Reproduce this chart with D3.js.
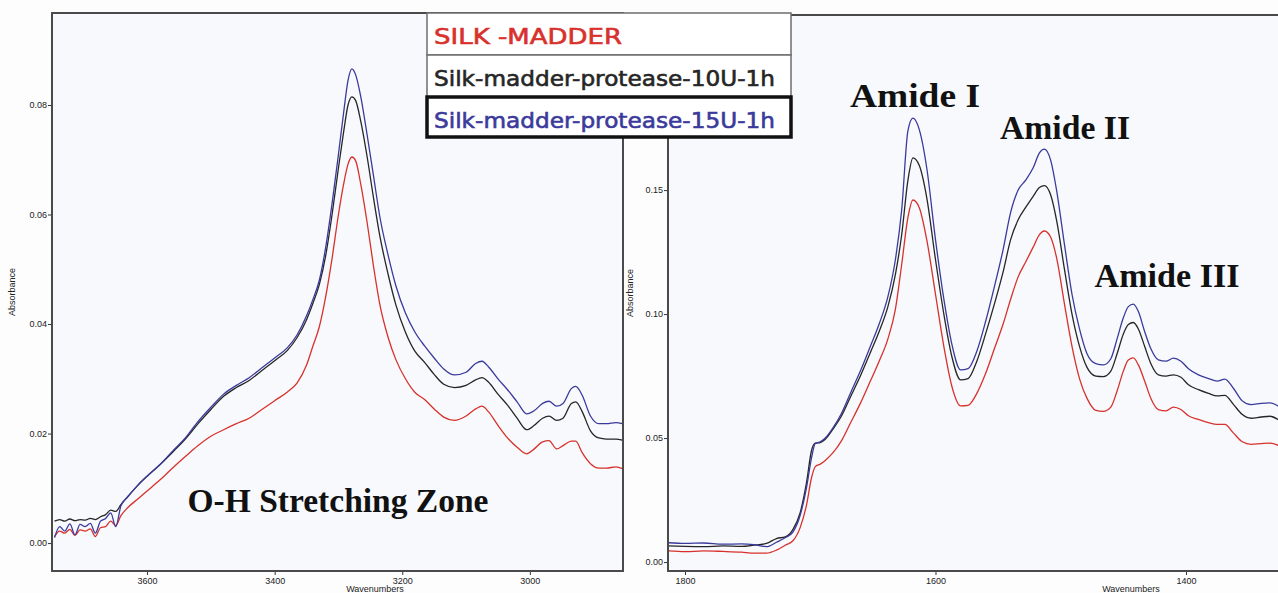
<!DOCTYPE html>
<html>
<head>
<meta charset="utf-8">
<script src="https://cdn.jsdelivr.net/npm/d3@7"></script>
<style>
  body { margin: 0; background: #fdfdfe; }
  svg { display: block; }
  .tick text { font-family: "Liberation Sans", Arial, sans-serif; font-size: 9px; fill: #222; }
  .tick line { stroke: #333; }
</style>
</head>
<body>
<svg id="chart" width="1278" height="593"></svg>
<script>
// ---- data ----
let ohWave = [3745, 3737, 3729, 3721, 3713, 3705, 3697, 3689, 3681, 3673, 3665, 3657, 3649, 3641,
  3630, 3615, 3600, 3580, 3560, 3540, 3520, 3500, 3480, 3460, 3440, 3420, 3400, 3380, 3365, 3350,
  3340, 3330, 3320, 3310, 3300, 3292, 3285, 3279, 3273, 3265, 3255, 3245, 3235, 3222, 3210, 3195,
  3180, 3165, 3150, 3135, 3118, 3100, 3085, 3075, 3065, 3050, 3035, 3020, 3005, 2993, 2980, 2970,
  2958, 2948, 2935, 2928, 2918, 2905, 2892, 2880, 2865, 2855];
let ohSilk = [0.0012, 0.0022, 0.0018, 0.0025, 0.0014, 0.0024, 0.0022, 0.0026, 0.0012, 0.0028, 0.0030, 0.0040, 0.0032, 0.0050,
  0.0065, 0.0080, 0.0095, 0.0115, 0.0137, 0.0158, 0.0178, 0.0195, 0.0207, 0.0218, 0.0228, 0.0244, 0.0260, 0.0276, 0.0292, 0.0325,
  0.0360, 0.0395, 0.0450, 0.0520, 0.0600, 0.0655, 0.0692, 0.0705, 0.0698, 0.0655, 0.0585, 0.0505, 0.0435, 0.0375, 0.0335, 0.0300,
  0.0275, 0.0262, 0.0245, 0.0230, 0.0224, 0.0232, 0.0245, 0.0250, 0.0240, 0.0215, 0.0192, 0.0175, 0.0163, 0.0172, 0.0185, 0.0187,
  0.0172, 0.0178, 0.0186, 0.0186, 0.0165, 0.0145, 0.0137, 0.0137, 0.0139, 0.0136];
let oh10U = [0.0040, 0.0043, 0.0040, 0.0044, 0.0041, 0.0043, 0.0042, 0.0045, 0.0043, 0.0048, 0.0052, 0.0060, 0.0058, 0.0070,
  0.0085, 0.0105, 0.0122, 0.0143, 0.0166, 0.0190, 0.0218, 0.0244, 0.0268, 0.0284, 0.0297, 0.0315, 0.0333, 0.0352, 0.0375, 0.0408,
  0.0438, 0.0472, 0.0525, 0.0600, 0.0685, 0.0750, 0.0800, 0.0815, 0.0808, 0.0770, 0.0705, 0.0630, 0.0560, 0.0490, 0.0435, 0.0385,
  0.0350, 0.0330, 0.0308, 0.0290, 0.0284, 0.0288, 0.0298, 0.0302, 0.0294, 0.0272, 0.0252, 0.0228, 0.0207, 0.0215, 0.0228, 0.0232,
  0.0224, 0.0228, 0.0255, 0.0258, 0.0240, 0.0205, 0.0192, 0.0190, 0.0190, 0.0188];
let oh15U = [0.0010, 0.0030, 0.0022, 0.0035, 0.0015, 0.0034, 0.0030, 0.0036, 0.0018, 0.0040, 0.0045, 0.0055, 0.0030, 0.0068,
  0.0085, 0.0105, 0.0122, 0.0143, 0.0168, 0.0192, 0.0222, 0.0248, 0.0272, 0.0288, 0.0302, 0.0320, 0.0338, 0.0357, 0.0380, 0.0415,
  0.0445, 0.0480, 0.0540, 0.0620, 0.0710, 0.0785, 0.0845, 0.0866, 0.0855, 0.0815, 0.0745, 0.0670, 0.0595, 0.0525, 0.0470, 0.0420,
  0.0385, 0.0360, 0.0338, 0.0318, 0.0307, 0.0312, 0.0328, 0.0332, 0.0322, 0.0300, 0.0280, 0.0258, 0.0236, 0.0242, 0.0255, 0.0259,
  0.0250, 0.0255, 0.0282, 0.0286, 0.0270, 0.0232, 0.0218, 0.0218, 0.0220, 0.0218];

let amWave = [1813, 1800, 1785, 1770, 1755, 1745, 1735, 1727, 1720, 1714, 1708, 1703, 1699, 1696, 1692,
  1688, 1682, 1675, 1668, 1660, 1652, 1645, 1638, 1632, 1627, 1622, 1618, 1613, 1607, 1600, 1593,
  1587, 1580, 1574, 1567, 1560, 1553, 1546, 1540, 1534, 1528, 1522, 1517, 1513, 1508, 1503, 1497,
  1491, 1485, 1479, 1472, 1466, 1460, 1455, 1450, 1446, 1442, 1438, 1433, 1428, 1422, 1416, 1410,
  1404, 1398, 1390, 1382, 1375, 1369, 1362, 1355, 1348, 1340, 1333, 1325];
let amSilk = [0.0045, 0.0042, 0.0045, 0.0043, 0.0040, 0.0036, 0.0036, 0.0048, 0.0068, 0.0085, 0.0140, 0.0230, 0.0340, 0.0385, 0.0395,
  0.0410, 0.0440, 0.0490, 0.0560, 0.0640, 0.0730, 0.0810, 0.0900, 0.1020, 0.1200, 0.1390, 0.1460, 0.1430, 0.1300, 0.1080, 0.0860,
  0.0710, 0.0630, 0.0632, 0.0680, 0.0760, 0.0860, 0.0960, 0.1060, 0.1150, 0.1210, 0.1270, 0.1320, 0.1335, 0.1310, 0.1220, 0.1040,
  0.0870, 0.0740, 0.0660, 0.0612, 0.0608, 0.0625, 0.0690, 0.0770, 0.0815, 0.0823, 0.0795, 0.0730, 0.0660, 0.0615, 0.0610, 0.0625,
  0.0615, 0.0590, 0.0575, 0.0562, 0.0555, 0.0555, 0.0520, 0.0485, 0.0475, 0.0478, 0.0480, 0.0468];
let am10U = [0.0065, 0.0063, 0.0062, 0.0065, 0.0063, 0.0068, 0.0075, 0.0095, 0.0102, 0.0130, 0.0200, 0.0320, 0.0450, 0.0480, 0.0482,
  0.0495, 0.0535, 0.0590, 0.0665, 0.0750, 0.0845, 0.0930, 0.1030, 0.1160, 0.1320, 0.1540, 0.1630, 0.1600, 0.1470, 0.1220, 0.0990,
  0.0830, 0.0735, 0.0740, 0.0810, 0.0920, 0.1040, 0.1170, 0.1300, 0.1380, 0.1430, 0.1475, 0.1510, 0.1518, 0.1480, 0.1370, 0.1180,
  0.1000, 0.0870, 0.0785, 0.0750, 0.0748, 0.0770, 0.0840, 0.0920, 0.0958, 0.0966, 0.0940, 0.0870, 0.0800, 0.0755, 0.0750, 0.0755,
  0.0745, 0.0715, 0.0695, 0.0680, 0.0670, 0.0672, 0.0635, 0.0595, 0.0580, 0.0585, 0.0588, 0.0570];
let am15U = [0.0078, 0.0075, 0.0077, 0.0072, 0.0073, 0.0070, 0.0062, 0.0080, 0.0098, 0.0120, 0.0190, 0.0300, 0.0420, 0.0478, 0.0485,
  0.0500, 0.0540, 0.0600, 0.0680, 0.0770, 0.0870, 0.0960, 0.1070, 0.1220, 0.1420, 0.1740, 0.1790, 0.1745, 0.1590, 0.1300, 0.1050,
  0.0880, 0.0775, 0.0780, 0.0850, 0.0970, 0.1110, 0.1260, 0.1410, 0.1500, 0.1540, 0.1590, 0.1650, 0.1665, 0.1620, 0.1490, 0.1280,
  0.1080, 0.0940, 0.0840, 0.0800, 0.0795, 0.0820, 0.0900, 0.0985, 0.1030, 0.1040, 0.1010, 0.0930, 0.0860, 0.0815, 0.0810, 0.0822,
  0.0810, 0.0780, 0.0755, 0.0740, 0.0730, 0.0738, 0.0700, 0.0650, 0.0635, 0.0640, 0.0642, 0.0625];

let seriesNames = ["SILK -MADDER", "Silk-madder-protease-10U-1h", "Silk-madder-protease-15U-1h"];
let seriesColors = ["#d8312c", "#262626", "#3b3a9c"];
let ohTicksX = [3600, 3400, 3200, 3000];
let ohTicksY = [0, 0.02, 0.04, 0.06, 0.08];
let amTicksX = [1800, 1600, 1400];
let amTicksY = [0, 0.05, 0.10, 0.15];

let svg = d3.select("#chart");

function drawPanel(p) {
    let x = d3.scaleLinear().domain(p.xDomain).range([p.left, p.right]);
    let y = d3.scaleLinear().domain(p.yDomain).range([p.bottom, p.top]);
    let g = svg.append("g");

    g.append("rect")
        .attr("x", p.left).attr("y", p.top)
        .attr("width", p.frameRight - p.left).attr("height", p.bottom - p.top)
        .attr("fill", "#f7f9fc");

    let clipId = "clip-" + p.id;
    svg.append("defs").append("clipPath").attr("id", clipId)
        .append("rect")
        .attr("x", p.left).attr("y", p.top)
        .attr("width", p.frameRight - p.left).attr("height", p.bottom - p.top);

    let line = d3.line()
        .x(d => x(d[0]))
        .y(d => y(d[1]))
        .curve(d3.curveMonotoneX);

    let lines = g.append("g").attr("clip-path", `url(#${clipId})`);
    p.series.forEach((vals, i) => {
        lines.append("path")
            .datum(p.wave.map((w, k) => [w, vals[k]]))
            .attr("fill", "none")
            .attr("stroke", seriesColors[i])
            .attr("stroke-width", 1.3)
            .attr("stroke-linejoin", "round")
            .attr("d", line);
    });

    g.append("g")
        .attr("transform", `translate(0,${p.bottom})`)
        .call(d3.axisBottom(x).tickValues(p.xTicks).tickSize(4).tickPadding(3).tickFormat(d3.format("d")))
        .call(a => a.select(".domain").remove());

    g.append("g")
        .attr("transform", `translate(${p.left},0)`)
        .call(d3.axisLeft(y).tickValues(p.yTicks).tickSize(4).tickPadding(1).tickFormat(d3.format(".2f")))
        .call(a => a.select(".domain").remove());

    g.append("rect")
        .attr("x", p.left).attr("y", p.top)
        .attr("width", p.frameRight - p.left).attr("height", p.bottom - p.top)
        .attr("fill", "none")
        .attr("stroke", "#4a4a4a")
        .attr("stroke-width", 2);

    g.append("text")
        .attr("transform", `translate(${p.yLabelX},${(p.top + p.bottom) / 2}) rotate(-90)`)
        .attr("text-anchor", "middle")
        .style("font-family", "Liberation Sans, Arial, sans-serif")
        .style("font-size", "9px")
        .attr("fill", "#222")
        .text("Absorbance");

    g.append("text")
        .attr("x", p.xLabelX).attr("y", 592)
        .attr("text-anchor", "middle")
        .style("font-family", "Liberation Sans, Arial, sans-serif")
        .style("font-size", "9px")
        .attr("fill", "#222")
        .text("Wavenumbers");

    return {x, y};
}

drawPanel({
    id: "oh", wave: ohWave, series: [ohSilk, oh10U, oh15U],
    xDomain: [3749, 2854], yDomain: [-0.0051, 0.0968],
    left: 52, right: 623, frameRight: 623, top: 13, bottom: 571,
    xTicks: ohTicksX, yTicks: ohTicksY, yLabelX: 15, xLabelX: 375
});

drawPanel({
    id: "am", wave: amWave, series: [amSilk, am10U, am15U],
    xDomain: [1813.6, 1326.5], yDomain: [-0.0036, 0.2206],
    left: 668, right: 1278, frameRight: 1290, top: 15, bottom: 571,
    xTicks: amTicksX, yTicks: amTicksY, yLabelX: 633, xLabelX: 1131
});

// annotations
let serif = "Liberation Serif, 'Times New Roman', serif";
[
    {t: "O-H Stretching Zone", x: 338, y: 512, size: 34, w: 301},
    {t: "Amide I", x: 915, y: 107, size: 33, w: 130},
    {t: "Amide II", x: 1065, y: 139, size: 33, w: 130},
    {t: "Amide III", x: 1167, y: 287, size: 33, w: 145}
].forEach(a => {
    svg.append("text")
        .attr("x", a.x).attr("y", a.y)
        .attr("text-anchor", "middle")
        .style("font-family", serif)
        .style("font-weight", "bold")
        .style("font-size", a.size + "px")
        .attr("fill", "#111")
        .attr("textLength", a.w)
        .attr("lengthAdjust", "spacingAndGlyphs")
        .text(a.t);
});

// legend box
let lg = svg.append("g");
let rowTops = [13, 55, 97];
let rowH = [42, 42, 40];
seriesNames.forEach((name, i) => {
    lg.append("rect")
        .attr("x", 427).attr("y", rowTops[i])
        .attr("width", 364).attr("height", rowH[i])
        .attr("fill", "#ffffff")
        .attr("stroke", i === 2 ? "#111" : "#6e6e6e")
        .attr("stroke-width", i === 2 ? 3.5 : 1.5);
    lg.append("text")
        .attr("x", 434).attr("y", rowTops[i] + 31)
        .style("font-family", "'DejaVu Sans', Verdana, sans-serif")
        .style("font-size", "21px")
        .attr("fill", seriesColors[i])
        .attr("stroke", seriesColors[i])
        .attr("stroke-width", 0.6)
        .attr("textLength", i === 0 ? 188 : 341)
        .attr("lengthAdjust", "spacingAndGlyphs")
        .text(name);
});
</script>
</body>
</html>
